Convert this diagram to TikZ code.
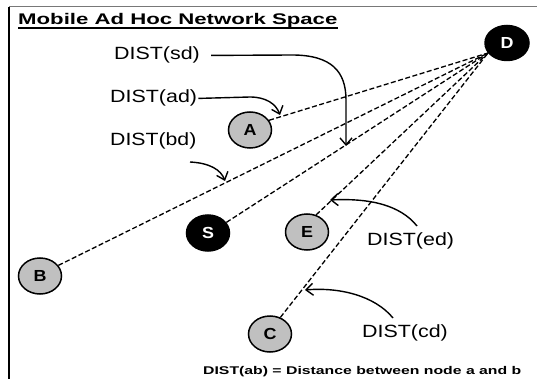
\documentclass[tikz,border=0pt]{standalone}
\usepackage{fontspec}
\setmainfont{Liberation Sans}
\usepackage{graphicx}
\usetikzlibrary{shapes.geometric,arrows.meta}
\definecolor{nodegray}{RGB}{192,192,192}
\definecolor{framegray}{RGB}{120,120,120}
\newcommand\wide[2]{\scalebox{#1}[1]{#2}}
\tikzset{
  netnode/.style={ellipse, draw=black, line width=1.5pt, minimum width=43pt, minimum height=36pt, inner sep=0pt, font=\fontsize{16}{16}\selectfont\bfseries},
  plainnode/.style={netnode, fill=nodegray, text=black},
  darknode/.style={netnode, fill=black, text=white},
  link/.style={black, line width=1.3pt, dash pattern=on 5pt off 2.5pt},
  pointer/.style={black, line width=1.4pt, -{Straight Barb[length=7pt,width=12pt,line width=1.4pt]}},
  distlabel/.style={anchor=base west, inner sep=0pt, font=\fontsize{17.7}{18}\selectfont},
}
\begin{document}
\begin{tikzpicture}[x=1pt,y=-1pt]
\useasboundingbox (0,0) rectangle (537,379);
\fill[white] (0,0) rectangle (537,379);
% frame
\coordinate (tl) at (9,7);
\coordinate (tr) at (537,7);
\coordinate (bl) at (9,379);
\draw[framegray, line width=1pt] (tl) -- (tr);
\draw[black, line width=2.2pt] (tl) -- (bl);
% title
\node[anchor=base west, inner sep=0pt, font=\fontsize{15.4}{16}\selectfont\bfseries] (title) at (18,24.3) {\wide{1.44}{Mobile Ad Hoc Network Space}};
\draw[line width=1.6pt] ([yshift=-3.8pt]title.base west) -- ([yshift=-3.8pt]title.base east);
% nodes
\node[darknode, minimum width=44pt, minimum height=35pt] (D) at (507,43) {\wide{1.12}{D}};
\node[plainnode] (A) at (250,130) {\wide{1.12}{A}};
\node[darknode] (S) at (208,233) {\wide{1.12}{S}};
\node[plainnode] (B) at (40,276) {\wide{1.12}{B}};
\node[plainnode] (E) at (307,232) {\wide{1.12}{E}};
\node[plainnode] (C) at (270,334) {\wide{1.12}{C}};
\coordinate (Dp) at (488,53);
% links
\draw[link] (A.27) -- (Dp);
\draw[link] (S.30) -- (Dp);
\draw[link] (B.30) -- (Dp);
\draw[link] (E.62) -- (Dp);
\draw[link] (C.58) -- (Dp);
% labels
\node[distlabel] (sdl) at (114,60) {\wide{1.21}{DIST(sd)}};
\node[distlabel] (adl) at (110,103) {\wide{1.21}{DIST(ad)}};
\node[distlabel] (bdl) at (110,146) {\wide{1.2}{DIST(bd)}};
\node[distlabel] (edl) at (367,245) {\wide{1.21}{DIST(ed)}};
\node[distlabel] (cdl) at (362,337) {\wide{1.21}{DIST(cd)}};
% pointer ends
\coordinate (tipsd) at (346,146);
\coordinate (tipad) at (280,115);
\coordinate (tailbd) at (190,162);
\coordinate (tipbd) at (225,181);
\coordinate (tailed) at (417,226);
\coordinate (tiped) at (330,200);
\coordinate (tailcd) at (393,318);
\coordinate (tipcd) at (305,290);
% pointers
\draw[pointer] ([xshift=11pt]sdl.east) -- (292,55) .. controls (332,55) and (346,72) .. (346,100) -- (tipsd);
\draw[pointer] ([xshift=1pt]adl.east) -- (250,97) .. controls (266,97) and (276,104) .. (tipad);
\draw[pointer] (tailbd) .. controls (210,163) and (221,170) .. (tipbd);
\draw[pointer] (tailed) .. controls (400,205) and (370,198) .. (tiped);
\draw[pointer] (tailcd) .. controls (375,296) and (340,287) .. (tipcd);
% footnote
\node[anchor=base west, inner sep=0pt, font=\fontsize{11.2}{12}\selectfont\bfseries] (note) at (203,374) {\wide{1.41}{DIST(ab) = Distance between node a and b}};
\end{tikzpicture}
\end{document}
